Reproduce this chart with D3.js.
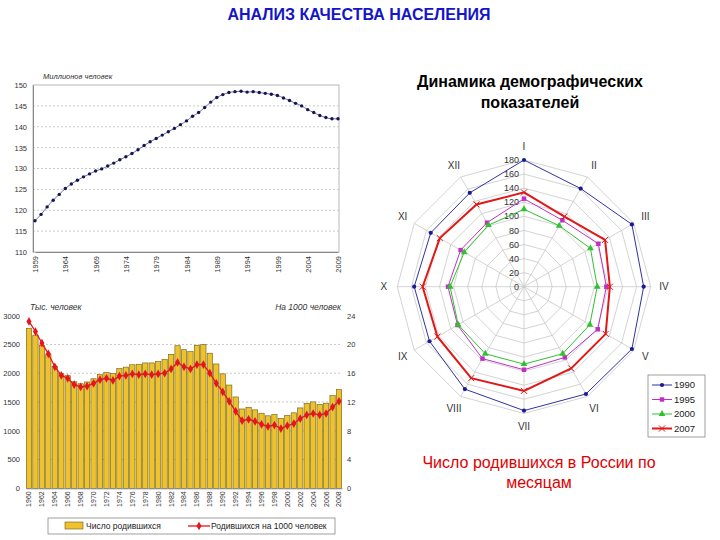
<!DOCTYPE html>
<html><head><meta charset="utf-8">
<script src="https://cdn.jsdelivr.net/npm/d3@7"></script>
<style>
body{margin:0;background:#fff;}
svg text{font-family:"Liberation Sans",Arial,sans-serif;}
</style></head>
<body><svg id="c" width="720" height="540"></svg>
<script>
// ---- Data ----
const popYears = d3.range(1959, 2010);
const popValues = [117.5,119.0,120.8,122.4,123.8,125.2,126.3,127.2,128.0,128.7,129.4,129.9,130.6,131.3,132.1,132.8,133.6,134.5,135.5,136.4,137.2,138.0,138.8,139.6,140.5,141.4,142.5,143.4,144.6,145.9,147.0,147.7,148.2,148.4,148.5,148.3,148.4,148.2,148.0,147.8,147.5,146.9,146.3,145.6,145.0,144.1,143.4,142.7,142.2,141.9,141.9];
const popTicksX = [1959,1964,1969,1974,1979,1984,1989,1994,1999,2004,2009];
const popTicksY = [110,115,120,125,130,135,140,145,150];

const birthYears = d3.range(1960, 2009);
const birthCounts = [2782,2662,2482,2331,2121,1991,1957,1852,1817,1848,1904,1975,2015,1995,2080,2106,2147,2156,2179,2179,2203,2237,2329,2478,2409,2375,2486,2500,2348,2161,1989,1795,1588,1379,1408,1363,1305,1260,1283,1215,1267,1312,1397,1477,1502,1457,1479,1610,1714];
const birthRates = [23.2,21.8,20.2,18.7,16.9,15.7,15.3,14.4,14.1,14.2,14.6,15.1,15.3,15.0,15.6,15.7,15.9,15.8,15.9,15.8,15.9,16.0,16.6,17.5,16.9,16.6,17.2,17.2,16.0,14.6,13.4,12.1,10.7,9.4,9.6,9.3,8.9,8.6,8.8,8.3,8.7,9.0,9.7,10.2,10.4,10.2,10.4,11.3,12.1];
const birthTicksLeft = [0,500,1000,1500,2000,2500,3000];
const birthTicksRight = [0,4,8,12,16,20,24];

const months = ["I","II","III","IV","V","VI","VII","VIII","IX","X","XI","XII"];
const radarSeries = ["1990","1995","2000","2007"];
const m1990 = [180,161,177,170,177,176,176,168,155,156,153,154];
const m1995 = [125,109,122,117,121,116,118,118,109,108,104,105];
const m2000 = [110,100,109,104,108,110,110,110,108,105,98,101];
const m2007 = [134,115,133,122,134,134,148,150,142,144,138,135];
const radarTicks = [0,20,40,60,80,100,120,140,160,180];

const svg = d3.select("#c");

// ---- Titles ----
svg.append("text").attr("x",359).attr("y",20).attr("text-anchor","middle")
  .attr("font-size",16).attr("font-weight","bold").attr("fill","#1414c8").text("АНАЛИЗ КАЧЕСТВА НАСЕЛЕНИЯ");
svg.append("text").attr("x",530).attr("y",87).attr("text-anchor","middle")
  .attr("font-size",16).attr("font-weight","bold").attr("fill","#000").text("Динамика демографических");
svg.append("text").attr("x",530).attr("y",108).attr("text-anchor","middle")
  .attr("font-size",16).attr("font-weight","bold").attr("fill","#000").text("показателей");
svg.append("text").attr("x",539).attr("y",468).attr("text-anchor","middle")
  .attr("font-size",16).attr("fill","#e00000").text("Число родившихся в России по");
svg.append("text").attr("x",539).attr("y",488).attr("text-anchor","middle")
  .attr("font-size",16).attr("fill","#e00000").text("месяцам");

// ---- Population chart ----
{
  const L=33,R=339,T=85,B=252;
  const x = d3.scaleLinear().domain([1959,2009]).range([L+2,R-1]);
  const y = d3.scaleLinear().domain([110,150]).range([B,T]);
  const g = svg.append("g");
  g.append("rect").attr("x",L).attr("y",T).attr("width",R-L).attr("height",B-T)
    .attr("fill","none").attr("stroke","#b8b8b8").attr("stroke-width",1);
  g.selectAll(".gl").data(popTicksY.filter(v=>v>110&&v<150)).join("line")
    .attr("x1",L).attr("x2",R).attr("y1",d=>y(d)).attr("y2",d=>y(d))
    .attr("stroke","#c8c8c8").attr("stroke-dasharray","2,2");
  const ya = g.append("g").attr("transform",`translate(${L},0)`)
    .call(d3.axisLeft(y).tickValues(popTicksY).tickSize(0).tickPadding(6));
  ya.select(".domain").attr("stroke","#888");
  ya.selectAll("text").attr("font-size",7.5).attr("fill","#333").attr("font-family","Liberation Sans, Arial");
  const xa = g.append("g").attr("transform",`translate(0,${B})`)
    .call(d3.axisBottom(x).tickValues(popTicksX).tickFormat(d3.format("d")).tickSize(0));
  xa.select(".domain").attr("stroke","#888");
  xa.selectAll("text").attr("font-size",7.5).attr("fill","#333").attr("font-family","Liberation Sans, Arial")
    .attr("transform","rotate(-90)").attr("text-anchor","end").attr("dx","-4").attr("dy","0.35em").attr("y",0);
  g.append("text").attr("x",43).attr("y",79).attr("font-size",7.5).attr("font-style","italic").attr("fill","#333")
    .text("Миллионов человек");
  const pts = popYears.map((yr,i)=>[yr,popValues[i]]);
  g.append("path").datum(pts).attr("fill","none").attr("stroke","#6a6aa8").attr("stroke-width",1)
    .attr("d",d3.line().x(d=>x(d[0])).y(d=>y(d[1])).curve(d3.curveMonotoneX));
  g.selectAll(".pp").data(pts).join("path")
    .attr("transform",d=>`translate(${x(d[0])},${y(d[1])})`)
    .attr("d",d3.symbol(d3.symbolCircle,9)).attr("fill","#141450");
}

// ---- Births chart ----
{
  const L=26,R=342,T=315.7,B=488.3;
  const x = d3.scaleBand().domain(birthYears).range([L,R]).paddingInner(0.18).paddingOuter(0.05);
  const yl = d3.scaleLinear().domain([0,3000]).range([B,T]);
  const yr = d3.scaleLinear().domain([0,24]).range([B,T]);
  const g = svg.append("g");
  g.selectAll(".gl").data(birthTicksLeft.filter(v=>v>0&&v<3000)).join("line")
    .attr("x1",L).attr("x2",R).attr("y1",d=>yl(d)).attr("y2",d=>yl(d))
    .attr("stroke","#c8c8c8").attr("stroke-dasharray","2,2");
  g.selectAll(".bar").data(birthYears).join("rect")
    .attr("x",d=>x(d)).attr("width",x.bandwidth())
    .attr("y",(d,i)=>yl(birthCounts[i])).attr("height",(d,i)=>B-yl(birthCounts[i]))
    .attr("fill","#eec22c").attr("stroke","#6e5c10").attr("stroke-width",0.6);
  const la = g.append("g").attr("transform",`translate(${L},0)`)
    .call(d3.axisLeft(yl).tickValues(birthTicksLeft).tickFormat(d3.format("d")).tickSize(0).tickPadding(6));
  la.select(".domain").remove();
  la.selectAll("text").attr("font-size",7.5).attr("fill","#333").attr("font-family","Liberation Sans, Arial");
  const ra = g.append("g").attr("transform",`translate(${R},0)`)
    .call(d3.axisRight(yr).tickValues(birthTicksRight).tickFormat(d3.format("d")).tickSize(0).tickPadding(5));
  ra.select(".domain").remove();
  ra.selectAll("text").attr("font-size",7.5).attr("fill","#333").attr("font-family","Liberation Sans, Arial");
  const xa = g.append("g").attr("transform",`translate(0,${B})`)
    .call(d3.axisBottom(x).tickValues(birthYears.filter(v=>v%2===0)).tickSize(0));
  xa.select(".domain").attr("stroke","#888");
  xa.selectAll("text").attr("font-size",7).attr("fill","#333").attr("font-family","Liberation Sans, Arial")
    .attr("transform","rotate(-90)").attr("text-anchor","end").attr("dx","-3").attr("dy","0.35em").attr("y",0);
  g.append("text").attr("x",30).attr("y",310).attr("font-size",8.5).attr("font-style","italic").attr("fill","#333").text("Тыс. человек");
  g.append("text").attr("x",341).attr("y",310).attr("text-anchor","end").attr("font-size",8.5).attr("font-style","italic").attr("fill","#333").text("На 1000 человек");
  const pts = birthYears.map((yy,i)=>[yy,birthRates[i]]);
  const cx = d=>x(d)+x.bandwidth()/2;
  g.append("path").datum(pts).attr("fill","none").attr("stroke","#e8141c").attr("stroke-width",1.3)
    .attr("d",d3.line().x(d=>cx(d[0])).y(d=>yr(d[1])));
  g.selectAll(".rp").data(pts).join("path")
    .attr("transform",d=>`translate(${cx(d[0])},${yr(d[1])})`)
    .attr("d",d3.symbol(d3.symbolDiamond,22)).attr("fill","#e8141c");
  // legend
  const lg = g.append("g");
  lg.append("rect").attr("x",48).attr("y",518).attr("width",287).attr("height",16).attr("fill","#fff").attr("stroke","#888").attr("stroke-width",0.8);
  lg.append("rect").attr("x",65).attr("y",522).attr("width",18).attr("height",7).attr("fill","#eec22c").attr("stroke","#6e5c10").attr("stroke-width",0.6);
  lg.append("text").attr("x",86).attr("y",529).attr("font-size",8.5).attr("fill","#222").text("Число родившихся");
  lg.append("line").attr("x1",188).attr("x2",210).attr("y1",526).attr("y2",526).attr("stroke","#e8141c").attr("stroke-width",1.3);
  lg.append("path").attr("transform","translate(199,526)").attr("d",d3.symbol(d3.symbolDiamond,22)).attr("fill","#e8141c");
  lg.append("text").attr("x",211).attr("y",529).attr("font-size",8.5).attr("fill","#222").text("Родившихся на 1000 человек");
}

// ---- Radar chart ----
{
  const cx0=524, cy0=286.7, Rmax=126.7;
  const r = d3.scaleLinear().domain([0,180]).range([0,Rmax]);
  const ang = i => i*2*Math.PI/12;
  const pt = (i,v) => [cx0 + r(v)*Math.sin(ang(i)), cy0 - r(v)*Math.cos(ang(i))];
  const g = svg.append("g");
  radarTicks.filter(v=>v>0).forEach(v=>{
    g.append("path").attr("d",d3.line().curve(d3.curveLinearClosed)(months.map((m,i)=>pt(i,v))))
      .attr("fill","none").attr("stroke","#c8c8c8").attr("stroke-width",0.8);
  });
  months.forEach((m,i)=>{
    const p = pt(i,180);
    g.append("line").attr("x1",cx0).attr("y1",cy0).attr("x2",p[0]).attr("y2",p[1]).attr("stroke","#c8c8c8").attr("stroke-width",0.8);
    const lp = pt(i,199);
    g.append("text").attr("x",lp[0]).attr("y",lp[1]).attr("dy","0.35em").attr("text-anchor","middle")
      .attr("font-size",10).attr("fill","#333").text(m);
  });
  radarTicks.forEach(v=>{
    g.append("text").attr("x",cx0-5).attr("y",cy0-r(v)).attr("dy","0.35em").attr("text-anchor","end")
      .attr("font-size",9).attr("fill","#333").text(v);
  });
  const series = [
    {name:radarSeries[0], vals:m1990, color:"#1a1a96", w:0.9, sym:"diamond"},
    {name:radarSeries[1], vals:m1995, color:"#c030c0", w:1, sym:"square"},
    {name:radarSeries[2], vals:m2000, color:"#30c030", w:1, sym:"triangle"},
    {name:radarSeries[3], vals:m2007, color:"#e01818", w:2, sym:"x"}
  ];
  const drawSym = (sel, s, x, y) => {
    if (s.sym==="diamond") sel.append("path").attr("transform",`translate(${x},${y})`).attr("d",d3.symbol(d3.symbolCircle,14)).attr("fill",s.color);
    else if (s.sym==="square") sel.append("path").attr("transform",`translate(${x},${y})`).attr("d",d3.symbol(d3.symbolSquare,20)).attr("fill",s.color);
    else if (s.sym==="triangle") sel.append("path").attr("transform",`translate(${x},${y})`).attr("d",d3.symbol(d3.symbolTriangle,20)).attr("fill",s.color);
    else sel.append("path").attr("transform",`translate(${x},${y})`).attr("d",d3.symbol(d3.symbolX,26)).attr("fill","none").attr("stroke",s.color).attr("stroke-width",1);
  };
  series.forEach(s=>{
    const pts = s.vals.map((v,i)=>pt(i,v));
    g.append("path").attr("d",d3.line().curve(d3.curveLinearClosed)(pts)).attr("fill","none").attr("stroke",s.color).attr("stroke-width",s.w);
    pts.forEach(p=>drawSym(g,s,p[0],p[1]));
  });
  const lg = g.append("g");
  lg.append("rect").attr("x",648).attr("y",375).attr("width",57).attr("height",62).attr("fill","#fff").attr("stroke","#888").attr("stroke-width",0.8);
  series.forEach((s,i)=>{
    const yy = 385 + i*14.5;
    lg.append("line").attr("x1",652).attr("x2",672).attr("y1",yy).attr("y2",yy).attr("stroke",s.color).attr("stroke-width",s.w);
    drawSym(lg,s,662,yy);
    lg.append("text").attr("x",674).attr("y",yy).attr("dy","0.35em").attr("font-size",9.5).attr("fill","#222").text(s.name);
  });
}
</script></body></html>
